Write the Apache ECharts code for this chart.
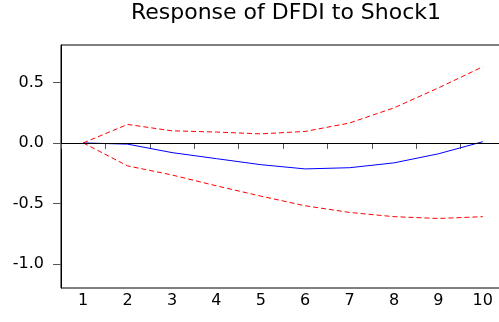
<!DOCTYPE html>
<html>
<head>
<meta charset="utf-8">
<script src="https://cdn.jsdelivr.net/npm/echarts@6/dist/echarts.min.js"></script>
<style>
  html, body { margin: 0; padding: 0; background: #fff; }
  #main { width: 499px; height: 322px; }
</style>
</head>
<body>
<div id="main"></div>
<script>
// periods and impulse response values
const periods = ['1', '2', '3', '4', '5', '6', '7', '8', '9', '10'];
const response = [0, -0.01, -0.08, -0.13, -0.18, -0.215, -0.205, -0.165, -0.09, 0.01];
const upperBand = [0, 0.153, 0.10, 0.09, 0.075, 0.095, 0.165, 0.29, 0.455, 0.63];
const lowerBand = [0, -0.19, -0.265, -0.355, -0.44, -0.52, -0.575, -0.61, -0.625, -0.61];
const yTicks = [-1.0, -0.5, 0.0, 0.5];

const chartDom = document.getElementById('main');
const myChart = echarts.init(chartDom);

const option = {
  animation: false,
  title: {
    text: 'Response of DFDI to Shock1',
    left: 281,
    textAlign: 'center',
    top: -3,
    textStyle: {
      fontFamily: 'DejaVu Sans',
      fontWeight: 'normal',
      fontSize: 22,
      color: '#000'
    }
  },
  grid: {
    left: 61,
    top: 45,
    width: 444,
    bottom: 34,
    outerBoundsMode: 'none',
    show: true,
    borderColor: '#000',
    borderWidth: 1
  },
  xAxis: {
    type: 'category',
    data: periods,
    boundaryGap: true,
    axisLine: { lineStyle: { color: '#000', width: 1 } },
    axisTick: { show: true, length: 6, lineStyle: { color: '#555' } },
    axisLabel: {
      margin: 5,
      fontFamily: 'DejaVu Sans',
      fontSize: 16,
      color: '#000'
    },
    splitLine: { show: false }
  },
  yAxis: {
    type: 'value',
    min: -1.2,
    max: 0.81,
    axisLine: { show: true, lineStyle: { color: '#000', width: 1 } },
    axisTick: { show: true, length: 8, customValues: yTicks, lineStyle: { color: '#555' } },
    axisLabel: {
      margin: 17,
      customValues: yTicks,
      fontFamily: 'DejaVu Sans',
      fontSize: 16,
      color: '#000',
      formatter: v => v.toFixed(1)
    },
    splitLine: { show: false }
  },
  series: [
    {
      type: 'line',
      name: 'response',
      data: response,
      symbol: 'none',
      lineStyle: { color: '#0000ff', width: 1 },
      markLine: {
        silent: true,
        symbol: 'none',
        label: { show: false },
        lineStyle: { color: '#000', type: 'solid', width: 1 },
        data: [{ yAxis: 0 }]
      },
      z: 3
    },
    {
      type: 'line',
      name: 'upper',
      data: upperBand,
      symbol: 'none',
      lineStyle: { color: '#ff0000', width: 1, type: [5, 3] }
    },
    {
      type: 'line',
      name: 'lower',
      data: lowerBand,
      symbol: 'none',
      lineStyle: { color: '#ff0000', width: 1, type: [5, 3] }
    }
  ]
};

myChart.setOption(option);
</script>
</body>
</html>
